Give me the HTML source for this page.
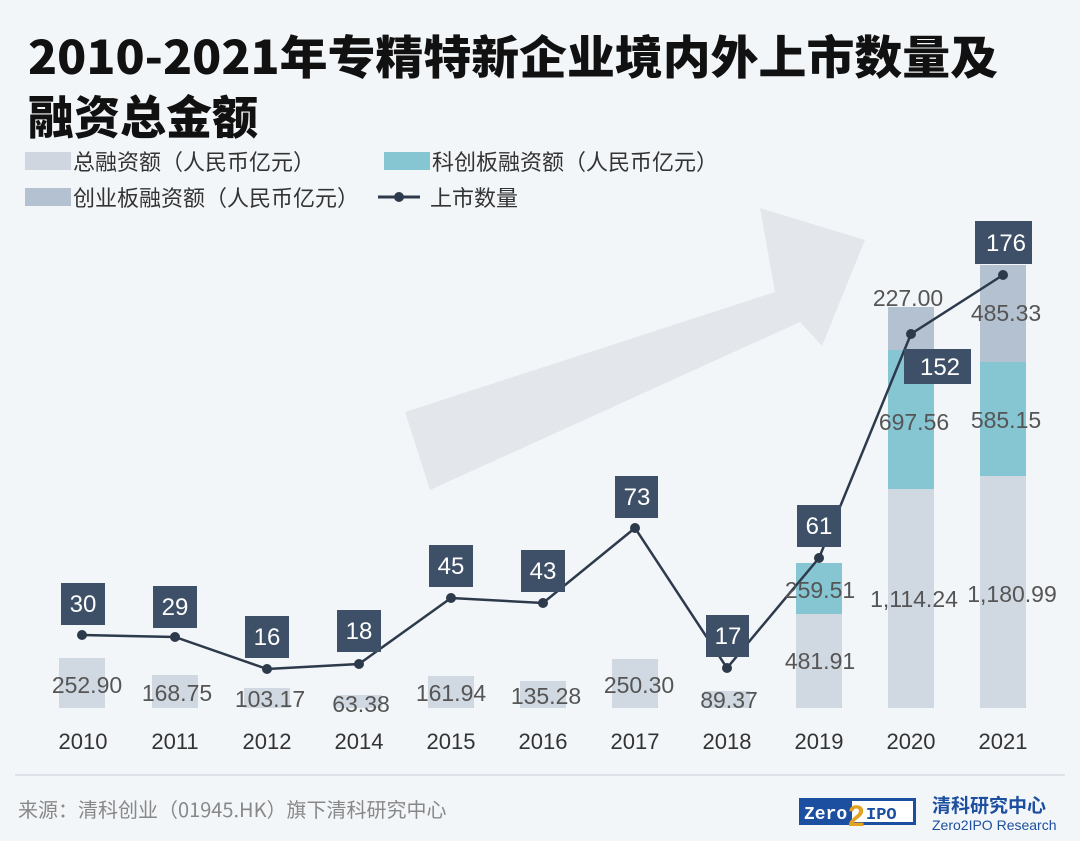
<!DOCTYPE html>
<html><head><meta charset="utf-8"><style>
body{margin:0;background:#f3f6f9;}
svg{display:block;font-family:"Liberation Sans","Noto Sans CJK SC",sans-serif;}
</style></head><body>
<svg width="1080" height="841" viewBox="0 0 1080 841">
<rect width="1080" height="841" fill="#f3f6f9"/>
<polygon points="405,412 775,292 760,208 865,240 822,346 800,322 430,490" fill="#e3e7ec"/>
<text x="28" y="74" font-size="46" font-weight="900" fill="#111" font-family="'Noto Sans CJK SC',sans-serif" textLength="970" lengthAdjust="spacingAndGlyphs">2010-2021年专精特新企业境内外上市数量及</text>
<text x="28" y="134" font-size="46" font-weight="900" fill="#111" font-family="'Noto Sans CJK SC',sans-serif">融资总金额</text>
<g font-size="22" fill="#333" font-family="'Noto Sans CJK SC',sans-serif">
<rect x="25" y="152" width="46" height="18" fill="#cfd6e0"/><text x="73" y="170">总融资额（人民币亿元）</text>
<rect x="384" y="152" width="46" height="18" fill="#86c5d2"/><text x="432" y="170">科创板融资额（人民币亿元）</text>
<rect x="25" y="188" width="46" height="18" fill="#b4c1d0"/><text x="73" y="206">创业板融资额（人民币亿元）</text>
<line x1="378" y1="197" x2="420" y2="197" stroke="#2c3a4c" stroke-width="3"/><circle cx="399" cy="197" r="5" fill="#2c3a4c"/><text x="430" y="206">上市数量</text>
</g>
<g fill="#d0d8e2">
<rect x="59" y="658" width="46" height="50"/>
<rect x="152" y="675" width="46" height="33"/>
<rect x="244" y="688" width="46" height="20"/>
<rect x="336" y="695" width="46" height="13"/>
<rect x="428" y="676" width="46" height="32"/>
<rect x="520" y="681" width="46" height="27"/>
<rect x="612" y="659" width="46" height="49"/>
<rect x="704" y="691" width="46" height="17"/>
<rect x="796" y="614" width="46" height="94"/>
<rect x="888" y="489" width="46" height="219"/>
<rect x="980" y="476" width="46" height="232"/>
</g>
<g fill="#86c5d2"><rect x="796" y="563" width="46" height="51"/><rect x="888" y="350" width="46" height="139"/><rect x="980" y="362" width="46" height="114"/></g>
<g fill="#b4c1d0"><rect x="888" y="307" width="46" height="43"/><rect x="980" y="265" width="46" height="97"/></g>
<polyline points="82,635 175,637 267,669 359,664 451,598 543,603 635,528 727,668 819,558 911,334 1003,275" fill="none" stroke="#2c3a4c" stroke-width="2.5"/>
<g fill="#2c3a4c"><circle cx="82" cy="635" r="5"/><circle cx="175" cy="637" r="5"/><circle cx="267" cy="669" r="5"/><circle cx="359" cy="664" r="5"/><circle cx="451" cy="598" r="5"/><circle cx="543" cy="603" r="5"/><circle cx="635" cy="528" r="5"/><circle cx="727" cy="668" r="5"/><circle cx="819" cy="558" r="5"/><circle cx="911" cy="334" r="5"/><circle cx="1003" cy="275" r="5"/></g>
<g fill="#3d5068">
<rect x="61" y="583" width="44" height="42"/><rect x="153" y="586" width="44" height="42"/><rect x="245" y="616" width="44" height="42"/><rect x="337" y="610" width="44" height="42"/><rect x="429" y="545" width="44" height="42"/><rect x="521" y="550" width="44" height="42"/><rect x="615" y="476" width="43" height="42"/><rect x="706" y="615" width="43" height="42"/><rect x="797" y="505" width="44" height="42"/><rect x="904" y="349" width="67" height="35"/><rect x="975" y="221" width="57" height="43"/>
</g>
<g fill="#fff" font-size="24" text-anchor="middle">
<text x="83" y="612">30</text><text x="175" y="615">29</text><text x="267" y="645">16</text><text x="359" y="639">18</text><text x="451" y="574">45</text><text x="543" y="579">43</text><text x="637" y="505">73</text><text x="728" y="644">17</text><text x="819" y="534">61</text><text x="940" y="375">152</text><text x="1006" y="251">176</text>
</g>
<g fill="#555" font-size="23" text-anchor="middle">
<text x="87" y="693">252.90</text><text x="177" y="701">168.75</text><text x="270" y="707">103.17</text><text x="361" y="712">63.38</text><text x="451" y="701">161.94</text><text x="546" y="704">135.28</text><text x="639" y="693">250.30</text><text x="729" y="708">89.37</text>
<text x="820" y="669">481.91</text><text x="820" y="598">259.51</text>
<text x="914" y="607">1,114.24</text><text x="908" y="306">227.00</text><text x="914" y="430">697.56</text>
<text x="1012" y="602">1,180.99</text><text x="1006" y="321">485.33</text><text x="1006" y="428">585.15</text>
</g>
<g fill="#333" font-size="22" text-anchor="middle">
<text x="83" y="749">2010</text><text x="175" y="749">2011</text><text x="267" y="749">2012</text><text x="359" y="749">2014</text><text x="451" y="749">2015</text><text x="543" y="749">2016</text><text x="635" y="749">2017</text><text x="727" y="749">2018</text><text x="819" y="749">2019</text><text x="911" y="749">2020</text><text x="1003" y="749">2021</text>
</g>
<line x1="15" y1="775" x2="1065" y2="775" stroke="#d5dbe2" stroke-width="1.5"/>
<text x="18" y="817" font-size="20" fill="#888" font-family="'Noto Sans CJK SC',sans-serif">来源：清科创业（01945.HK）旗下清科研究中心</text>
<rect x="799" y="798" width="117" height="27" fill="#1d4fa0"/>
<rect x="852" y="801" width="61" height="21" fill="#fff"/>
<text x="804" y="819" font-size="18" font-weight="bold" fill="#fff" font-family="'Liberation Mono',monospace">Zero</text>
<text x="848" y="826" font-size="30" font-weight="bold" fill="#e2a322">2</text>
<text x="866" y="819" font-size="17" font-weight="bold" fill="#1d4fa0" font-family="'Liberation Mono',monospace">IPO</text>
<text x="932" y="812" font-size="19" font-weight="bold" fill="#1d4fa0" font-family="'Noto Sans CJK SC',sans-serif">清科研究中心</text>
<text x="932" y="830" font-size="14" fill="#1d4fa0">Zero2IPO Research</text>
</svg>
</body></html>
